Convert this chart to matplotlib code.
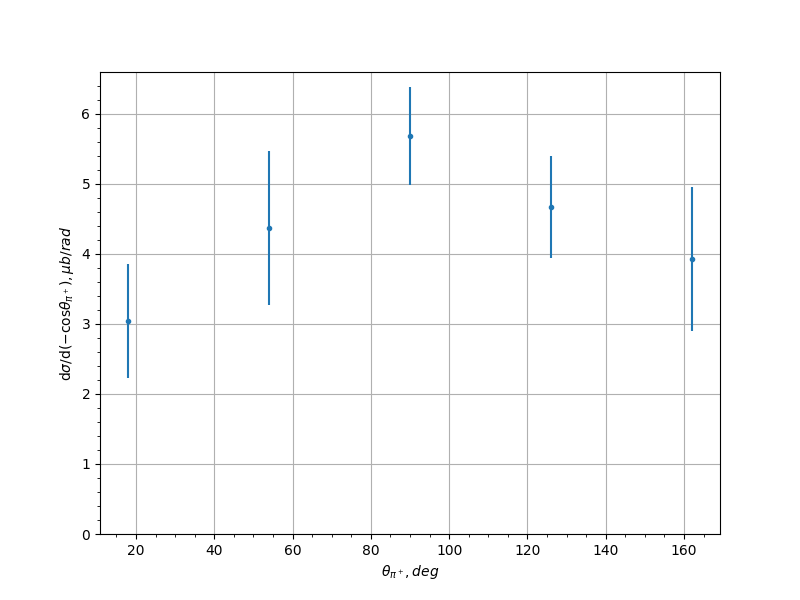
import numpy as np
import matplotlib.pyplot as plt

# angular distribution points
theta = [18, 54, 90, 126, 162]
dsigma = [3.04, 4.37, 5.69, 4.67, 3.93]
dsigma_err = [0.81, 1.10, 0.70, 0.73, 1.03]

fig, ax = plt.subplots(figsize=(8, 6), dpi=100)
ax.errorbar(theta, dsigma, yerr=dsigma_err, fmt='.')
ax.set_ylim(bottom=0)
ax.minorticks_on()
ax.grid(True, which='major')
ax.set_xlabel(r'$\theta_{\pi^+}, deg$')
ax.set_ylabel(r'$\mathrm{d}\sigma/\mathrm{d}(-\mathrm{cos}\theta_{\pi^+}), \mu b/rad$')
fig.savefig('out.png')
